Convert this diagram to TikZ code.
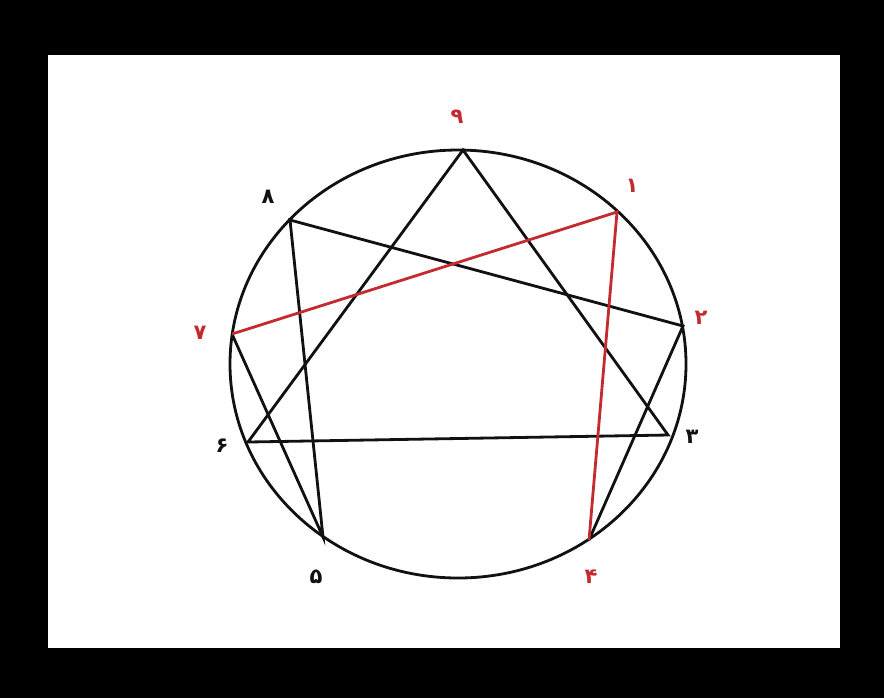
\documentclass[tikz,border=0pt]{standalone}
\usepackage{fontspec}
\newfontfamily\arabicfont[Script=Arabic]{DejaVu Sans}
\TeXXeTstate=1
\definecolor{Ink}{HTML}{111111}
\definecolor{Crimson}{HTML}{C42B2F}
\tikzset{
  edge/.style={line width=1.6pt, draw=Ink},
  rededge/.style={line width=1.6pt, draw=Crimson},
  digit/.style={font=\arabicfont\large\bfseries, text=Ink, inner sep=1pt},
  reddigit/.style={digit, text=Crimson}
}
\begin{document}
\begin{tikzpicture}[x=0.02cm,y=-0.02cm]
    % frame
    \fill[black] (0,0) rectangle (884,698);
    \fill[white] (48,55) rectangle (840,648);
    \useasboundingbox (0,0) rectangle (884,698);
    \draw[edge] (458,364) ellipse [x radius=228, y radius=214];
    % points on the circle
    \coordinate (p9) at (463,150);
    \coordinate (p1) at (617,212);
    \coordinate (p2) at (683,326);
    \coordinate (p3) at (668,435);
    \coordinate (p4) at (589,540);
    \coordinate (p5) at (323,537);
    \coordinate (p6) at (248,442);
    \coordinate (p7) at (232,334);
    \coordinate (p8) at (290,220);
    % labels
    \node[reddigit] (n9) at (457,117) {\beginR ۹\endR};
    \node[reddigit] (n1) at (632,186) {\beginR ۱\endR};
    \node[reddigit] (n2) at (701,318) {\beginR ۲\endR};
    \node[digit] (n3) at (692,437) {\beginR ۳\endR};
    \node[reddigit] (n4) at (591,577) {\beginR ۴\endR};
    \node[digit] (n5) at (316,577) {\beginR ۵\endR};
    \node[digit] (n6) at (222,446) {\beginR ۶\endR};
    \node[reddigit] (n7) at (200,333) {\beginR ۷\endR};
    \node[digit] (n8) at (268,197) {\beginR ۸\endR};
    % triangle
    \draw[edge] (p9)--(p3)--(p6)--cycle;
    % hexad
    \draw[edge] (p4)--(p2)--(p8)--(p5)--(p7);
    \draw[rededge] (p7)--(p1)--(p4);
\end{tikzpicture}
\end{document}
